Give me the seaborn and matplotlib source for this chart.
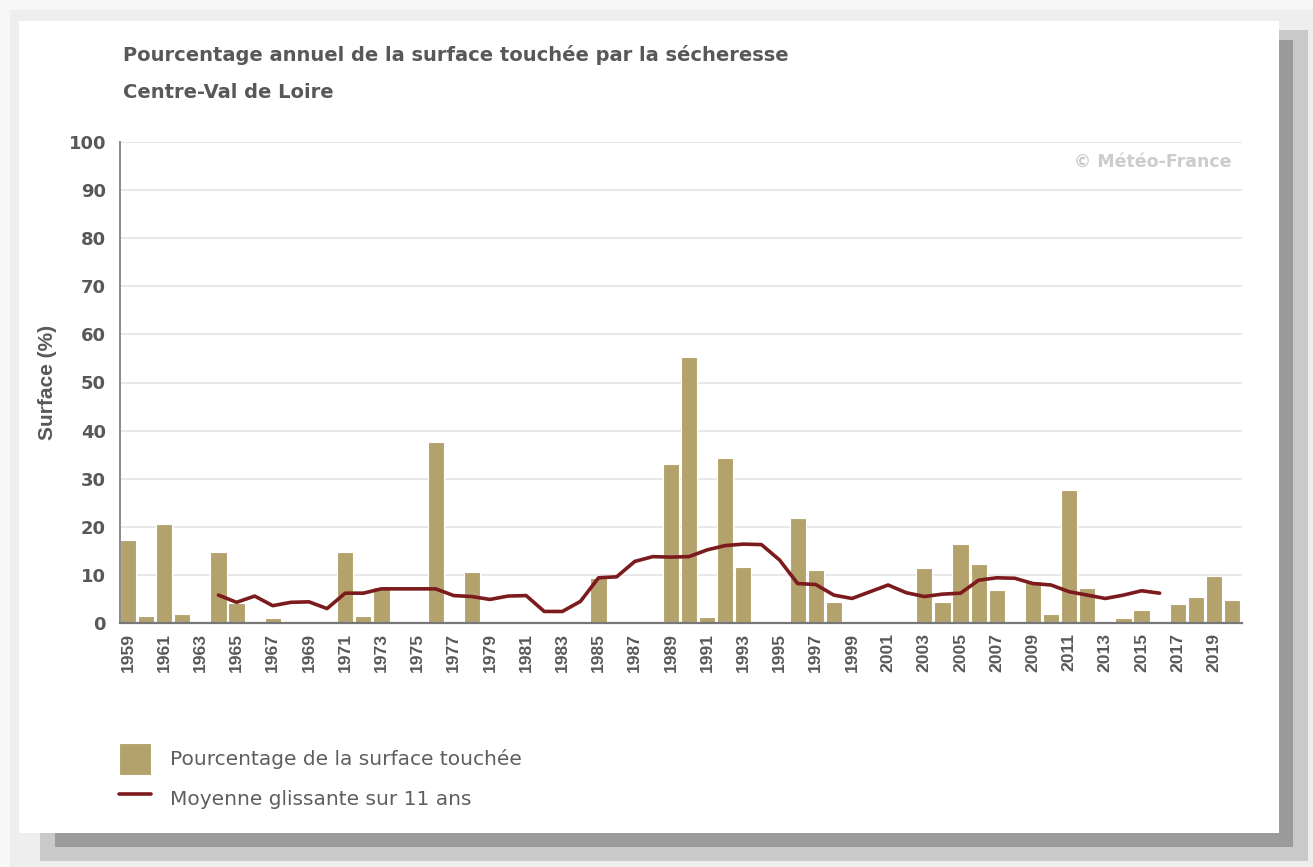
import numpy as np
import pandas as pd
import matplotlib
matplotlib.use("Agg")
import matplotlib.pyplot as plt
from matplotlib.patches import Rectangle
import seaborn as sns

# values
years = list(range(1959, 2021))
surface = [17.3, 1.4, 20.6, 1.8, 0, 14.8, 4.2, 0, 1.0, 0,
           0, 0, 14.8, 1.4, 7.5, 0, 0, 37.6, 0, 10.5,
           0, 0, 0, 0, 0, 0, 9.3, 0, 0, 0,
           33.1, 55.2, 1.3, 34.3, 11.7, 0, 0, 21.8, 11.0, 4.3,
           0, 0, 0, 0, 11.4, 4.3, 16.4, 12.2, 6.8, 0,
           8.8, 1.8, 27.6, 7.2, 0, 1.0, 2.6, 0, 3.9, 5.5,
           9.7, 4.7]

ma_years = list(range(1964, 2017))
ma_values = [5.8, 4.3, 5.6, 3.6, 4.3, 4.4, 3.0, 6.2, 6.2, 7.1,
             7.1, 7.1, 7.1, 5.7, 5.5, 4.9, 5.6, 5.7, 2.4, 2.4,
             4.5, 9.4, 9.6, 12.8, 13.8, 13.7, 13.8, 15.2, 16.1, 16.4,
             16.3, 13.1, 8.2, 8.0, 5.8, 5.1, 6.5, 7.9, 6.3, 5.5,
             6.0, 6.2, 8.9, 9.4, 9.3, 8.2, 7.9, 6.5, 5.8, 5.1,
             5.8, 6.7, 6.2]

yticks = list(range(0, 101, 10))
xticks = list(range(1959, 2021, 2))

title = "Pourcentage annuel de la surface touchée par la sécheresse"
subtitle = "Centre-Val de Loire"
bar_label = "Pourcentage de la surface touchée"
line_label = "Moyenne glissante sur 11 ans"

BAR_COLOR = "#b4a26d"
LINE_COLOR = "#7c1b1d"
TEXT_COLOR = "#585858"

W, H = 1313, 867

sns.set_theme(style="white")
plt.rcParams["font.family"] = ["DejaVu Sans"]

fig = plt.figure(figsize=(W / 100, H / 100), dpi=100, facecolor="#f7f7f7")


def px_rect(x0, y0, x1, y1, color, z):
    # rectangle given in pixel coords (origin top-left)
    fig.add_artist(Rectangle((x0 / W, 1 - y1 / H), (x1 - x0) / W, (y1 - y0) / H,
                             transform=fig.transFigure, facecolor=color,
                             edgecolor="none", zorder=z))


# card + drop shadow
px_rect(10, 10, W, H, "#eeeeee", -30)
px_rect(40, 30, 1308, 861, "#c9c9c9", -29)
px_rect(55, 40, 1293, 847, "#9b9b9b", -28)
px_rect(19, 21, 1279, 833, "white", -27)

ax = fig.add_axes([120 / W, 1 - 623 / H, 1122 / W, 481 / H])
ax.set_facecolor("white")

df = pd.DataFrame({"year": years, "surface": surface})
ma = pd.DataFrame({"year": ma_years, "ma": ma_values})

sns.barplot(data=df, x="year", y="surface", native_scale=True, width=0.9,
            color=BAR_COLOR, saturation=1, edgecolor="white", linewidth=0.8,
            errorbar=None, label=bar_label, ax=ax, zorder=2)
sns.lineplot(data=ma, x="year", y="ma", color=LINE_COLOR, linewidth=2.6,
             label=line_label, ax=ax, zorder=3)

ax.set_xlim(years[0] - 0.44, years[-1] + 0.55)
ax.set_ylim(0, 100)
ax.set_yticks(yticks)
ax.set_xticks(xticks)
ax.set_xticklabels([str(y) for y in xticks], rotation=90,
                   family="Liberation Sans", fontweight="bold", fontsize=12.6,
                   color=TEXT_COLOR)
ax.set_yticklabels([str(v) for v in yticks], fontweight="bold", fontsize=13,
                   color=TEXT_COLOR)
ax.tick_params(axis="both", length=0)
ax.tick_params(axis="x", pad=7)
ax.tick_params(axis="y", pad=10)

ax.grid(axis="y", color="#e6e6e6", linewidth=1.3, zorder=0)
ax.set_axisbelow(True)
for side in ["top", "right"]:
    ax.spines[side].set_visible(False)
ax.spines["left"].set_color("#8a8a8a")
ax.spines["left"].set_linewidth(1.4)
ax.spines["bottom"].set_color("#777777")
ax.spines["bottom"].set_linewidth(1.6)

ax.set_xlabel("")
ax.set_ylabel("Surface (%)", family="Liberation Sans", fontweight="bold",
              fontsize=15, color=TEXT_COLOR)
ax.yaxis.set_label_coords(-0.056, 0.5)

fig.text(123 / W, 1 - 55 / H, title, fontsize=14, fontweight="bold",
         color=TEXT_COLOR, va="center", ha="left")
fig.text(123 / W, 1 - 92 / H, subtitle, fontsize=14, fontweight="bold",
         color=TEXT_COLOR, va="center", ha="left")
fig.text(1232 / W, 1 - 162 / H, "© Météo-France", fontsize=12.5,
         fontweight="bold", color="#cccccc", va="center", ha="right")

# legend below the plot, bars first
handles, labels = ax.get_legend_handles_labels()
order = [labels.index(bar_label), labels.index(line_label)]
ax.legend([handles[i] for i in order], [labels[i] for i in order],
          loc="upper left", bbox_to_anchor=(119 / W, 1 - 743 / H),
          bbox_transform=fig.transFigure, frameon=False, borderpad=0,
          borderaxespad=0, handlelength=1.6, handleheight=2.05,
          handletextpad=0.95, labelspacing=0.42,
          prop={"size": 14.5}, labelcolor="#5e5e5e")

fig.savefig("out.png", dpi=100, facecolor=fig.get_facecolor())
